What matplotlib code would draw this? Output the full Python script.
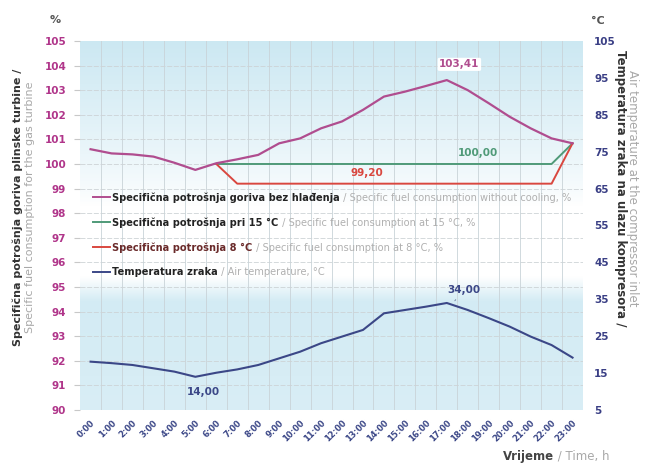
import numpy as np
import matplotlib.pyplot as plt
from matplotlib.lines import Line2D

hours = ["0:00", "1:00", "2:00", "3:00", "4:00", "5:00", "6:00", "7:00", "8:00", "9:00",
         "10:00", "11:00", "12:00", "13:00", "14:00", "15:00", "16:00", "17:00", "18:00",
         "19:00", "20:00", "21:00", "22:00", "23:00"]

# specific fuel consumption without cooling, %
sfc_no_cooling = [100.60, 100.43, 100.39, 100.30, 100.05, 99.76, 100.03, 100.19, 100.37, 100.84,
                  101.04, 101.45, 101.73, 102.20, 102.74, 102.94, 103.17, 103.41, 103.00, 102.47,
                  101.92, 101.45, 101.04, 100.84]
# at 15 °C (only when cooling is on)
sfc_15 = [np.nan] * 6 + [100.00] * 17 + [100.84]
# at 8 °C
sfc_8 = [np.nan] * 6 + [100.00] + [99.20] * 16 + [100.84]
# air temperature, °C
air_temp = [18.1, 17.7, 17.2, 16.3, 15.4, 14.0, 15.1, 16.0, 17.2, 19.0, 20.8, 23.1, 24.9, 26.7,
            31.2, 32.1, 33.0, 34.0, 32.1, 29.9, 27.6, 24.9, 22.6, 19.2]

c_pink = "#b04d8f"
c_green = "#4f9a78"
c_red = "#d9473f"
c_navy = "#3b4787"

x = np.arange(len(hours))

fig = plt.figure(figsize=(6.46, 4.71), dpi=100)
ax = fig.add_axes([0.124, 0.1295, 0.7785, 0.7835])
ax2 = ax.twinx()

ax.set_xlim(-0.5, 23.5)
ax.set_ylim(90, 105)
ax2.set_ylim(5, 105)

# background gradient
v = np.linspace(90, 105, 400)
blue = np.array([0.80, 0.91, 0.95])
white = np.array([1.0, 1.0, 1.0])
t_top = np.clip((v - 98.3) / 6.7, 0, 1) ** 0.8
t_bot = np.clip((95.4 - v) / 1.0, 0, 1) * (0.85 - 0.1 * np.clip((94 - v) / 4, 0, 1))
t = np.maximum(t_top, t_bot)
img = white[None, :] * (1 - t[:, None]) + blue[None, :] * t[:, None]
img = np.repeat(img[:, None, :], 2, axis=1)
ax.imshow(img, extent=(-0.5, 23.5, 90, 105), origin="lower", aspect="auto", zorder=0)

# grid
for gx in np.arange(0.5, 23.5, 1):
    ax.axvline(gx, color="#c9d3d8", lw=0.6, zorder=1)
for gy in range(91, 105):
    ax.axhline(gy, color="#cdd3d6", lw=0.6, ls=(0, (6, 2)), zorder=1)

ax.plot(x, sfc_no_cooling, color=c_pink, lw=1.6, zorder=4)
ax.plot(x, sfc_15, color=c_green, lw=1.4, zorder=3)
ax.plot(x, sfc_8, color=c_red, lw=1.4, zorder=3)
ax2.plot(x, air_temp, color=c_navy, lw=1.5, zorder=4)

# value labels
imax = int(np.argmax(sfc_no_cooling))
ax.annotate("103,41", (x[imax], sfc_no_cooling[imax]), xytext=(x[imax] + 0.6, 104.05),
            ha="center", va="center", color=c_pink, fontsize=7.5, fontweight="bold",
            bbox=dict(boxstyle="round,pad=0.15", fc="white", ec="none"), zorder=6)
ax.text(18.5, 100.45, "100,00", ha="center", va="center", color=c_green,
        fontsize=7.5, fontweight="bold", zorder=6)
ax.text(13.2, 99.65, "99,20", ha="center", va="center", color=c_red,
        fontsize=7.5, fontweight="bold", zorder=6)
tmin = int(np.argmin(air_temp))
tmax = int(np.argmax(air_temp))
ax2.text(x[tmin] + 0.4, air_temp[tmin] - 4, "14,00", ha="center", va="center",
         color=c_navy, fontsize=7.5, fontweight="bold", zorder=6)
ax2.annotate("34,00", (x[tmax] + 0.3, air_temp[tmax]), xytext=(x[tmax] + 0.8, air_temp[tmax] + 3.6),
             ha="center", va="center", color=c_navy, fontsize=7.5, fontweight="bold",
             arrowprops=dict(arrowstyle="-", color="#6a7a9a", lw=0.6), zorder=6)

# legend drawn by hand (two-coloured labels)
legend_items = [
    (c_pink, "Specifična potrošnja goriva bez hlađenja", " / Specific fuel consumption without cooling, %", "#222222"),
    (c_green, "Specifična potrošnja pri 15 °C", " / Specific fuel consumption at 15 °C, %", "#222222"),
    (c_red, "Specifična potrošnja 8 °C", " / Specific fuel consumption at 8 °C, %", "#6a2a2a"),
    (c_navy, "Temperatura zraka", " / Air temperature, °C", "#222222"),
]
ly = 0.5765
for col, hr, en, tc in legend_items:
    ax.add_line(Line2D([0.026, 0.06], [ly, ly], transform=ax.transAxes, color=col, lw=1.4, zorder=6))
    t1 = ax.text(0.064, ly, hr, transform=ax.transAxes, va="center", ha="left",
                 fontsize=7.1, fontweight="bold", color=tc, zorder=6)
    ax.annotate(en, xy=(1, 0), xycoords=t1, va="bottom", ha="left",
                fontsize=7.1, color="#b0b0b0", zorder=6)
    ly -= 25 / 369

# axes styling
ax.set_xticks(x)
ax.set_xticklabels(hours, rotation=45, ha="right", rotation_mode="anchor",
                   fontsize=6, fontweight="bold", color=c_navy)
ax.tick_params(axis="x", length=0, pad=6)
ax.set_yticks(range(90, 106))
ax.set_yticklabels([str(i) for i in range(90, 106)], fontsize=7.5, fontweight="bold", color="#b0358a")
ax.tick_params(axis="y", length=4, color="#c8c8c8", pad=6)
ax2.set_yticks(range(5, 106, 10))
ax2.set_yticklabels([str(i) for i in range(5, 106, 10)], fontsize=7.5, fontweight="bold", color="#3a3f85")
ax2.tick_params(axis="y", length=0, pad=8)
for a in (ax, ax2):
    for s in a.spines.values():
        s.set_visible(False)

fig.text(0.085, 0.958, "%", fontsize=8, fontweight="bold", color="#555555", ha="center", va="center")
fig.text(0.926, 0.955, "°C", fontsize=8, fontweight="bold", color="#555555", ha="center", va="center")

fig.text(0.028, 0.56, "Specifična potrošnja goriva plinske turbine /", rotation=90,
         fontsize=8, fontweight="bold", color="#333333", ha="center", va="center")
fig.text(0.047, 0.56, "Specific fuel consumption for the gas turbine", rotation=90,
         fontsize=8, color="#a8a8a8", ha="center", va="center")
fig.text(0.96, 0.6, "Temperatura zraka na ulazu kompresora /", rotation=270,
         fontsize=8.5, fontweight="bold", color="#333333", ha="center", va="center")
fig.text(0.979, 0.6, "Air temperature at the compressor inlet", rotation=270,
         fontsize=8.5, color="#a8a8a8", ha="center", va="center")

xl = fig.text(0.778, 0.018, "Vrijeme", fontsize=8.5, fontweight="bold", color="#444444",
              ha="left", va="bottom")
ax.annotate(" / Time, h", xy=(1, 0), xycoords=xl, va="bottom", ha="left",
            fontsize=8.5, color="#a8a8a8", annotation_clip=False)

fig.savefig("out.png", dpi=100)
